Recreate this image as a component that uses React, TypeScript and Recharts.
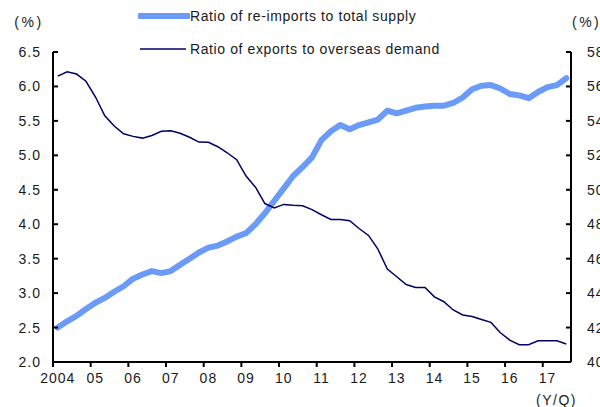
import React from 'react';
import { LineChart, Line, XAxis, YAxis, Legend } from 'recharts';

// quarters 2004Q1 .. 2017Q3
const years = ['2004', '05', '06', '07', '08', '09', '10', '11', '12', '13', '14', '15', '16', '17'];

const reImportRatio = [
  2.50, 2.59, 2.67, 2.77, 2.86, 2.93, 3.02, 3.10, 3.21, 3.27, 3.32, 3.29, 3.32, 3.41,
  3.50, 3.59, 3.66, 3.69, 3.75, 3.82, 3.87, 4.00, 4.16, 4.34, 4.52, 4.70, 4.83, 4.97,
  5.22, 5.35, 5.44, 5.38, 5.44, 5.48, 5.52, 5.65, 5.61, 5.65, 5.69, 5.71, 5.72, 5.72,
  5.76, 5.84, 5.96, 6.01, 6.02, 5.97, 5.89, 5.87, 5.83, 5.92, 5.99, 6.02, 6.12,
];

const exportRatio = [
  56.6, 56.85, 56.72, 56.3, 55.4, 54.3, 53.7, 53.25, 53.1, 53.0, 53.15, 53.4, 53.43, 53.28,
  53.05, 52.77, 52.76, 52.5, 52.15, 51.75, 50.8, 50.15, 49.2, 48.95, 49.15, 49.1, 49.07, 48.85,
  48.55, 48.28, 48.28, 48.2, 47.75, 47.35, 46.55, 45.4, 44.95, 44.5, 44.33, 44.33, 43.78, 43.5,
  43.02, 42.73, 42.64, 42.47, 42.3, 41.7, 41.27, 41.0, 41.0, 41.23, 41.23, 41.23, 41.05,
];

const leftTicks = [2.0, 2.5, 3.0, 3.5, 4.0, 4.5, 5.0, 5.5, 6.0, 6.5];
const rightTicks = [40, 42, 44, 46, 48, 50, 52, 54, 56, 58];
const yearTicks = years.map((_, i) => i * 4);

const data = reImportRatio.map((v, i) => ({
  q: i + 0.5,
  reImport: v,
  exports: exportRatio[i],
}));

const W = 600;
const H = 407;
const LEFT_W = 53;
const RIGHT_W = 29;
const QUARTER_W = (W - LEFT_W - RIGHT_W) / reImportRatio.length;

const FONT = '"Liberation Sans", Arial, sans-serif';
const TEXT = '#1a1a1a';

const LeftTick = (props: any) => {
  const { x, y, payload } = props;
  return (
    <g>
      <line x1={x + 12} x2={x + 17} y1={y} y2={y} stroke="#000" strokeWidth={2} />
      <text x={x} y={y} dy={5} textAnchor="end" fontSize={14} letterSpacing={1} fill={TEXT} fontFamily={FONT}>
        {Number(payload.value).toFixed(1)}
      </text>
    </g>
  );
};

const RightTick = (props: any) => {
  const { x, y, payload } = props;
  return (
    <g>
      <line x1={x - 16} x2={x - 21} y1={y} y2={y} stroke="#000" strokeWidth={2} />
      <text x={x} y={y} dy={5} textAnchor="start" fontSize={14} letterSpacing={1} fill={TEXT} fontFamily={FONT}>
        {payload.value}
      </text>
    </g>
  );
};

const YearTick = (props: any) => {
  const { x, y, payload } = props;
  return (
    <text x={x + QUARTER_W / 2} y={y} dy={14} textAnchor="middle" fontSize={14} letterSpacing={1} fill={TEXT} fontFamily={FONT}>
      {years[payload.value / 4]}
    </text>
  );
};

const LegendBox = () => (
  <div style={{ fontFamily: FONT, fontSize: 14, letterSpacing: 0.6, color: TEXT }}>
    <div style={{ display: 'flex', alignItems: 'center', height: 20 }}>
      <svg width={52} height={10}>
        <line x1={2} x2={50} y1={5} y2={5} stroke="#6B9BF8" strokeWidth={6} strokeLinecap="round" />
      </svg>
      <span>Ratio of re-imports to total supply</span>
    </div>
    <div style={{ display: 'flex', alignItems: 'center', height: 20, marginTop: 13 }}>
      <svg width={52} height={10}>
        <line x1={2} x2={48} y1={5} y2={5} stroke="#000066" strokeWidth={1.5} />
      </svg>
      <span>Ratio of exports to overseas demand</span>
    </div>
  </div>
);

const unitLabel = (text: string, dx: number, anchor: string) => (props: any) => {
  const { viewBox } = props;
  return (
    <text x={viewBox.x + dx} y={viewBox.y - 25} textAnchor={anchor} fontSize={14} letterSpacing={2.5} fill={TEXT} fontFamily={FONT}>
      {text}
    </text>
  );
};

const yqLabel = (props: any) => {
  const { viewBox } = props;
  return (
    <text x={viewBox.x + viewBox.width + 6} y={viewBox.y + 43} textAnchor="end" fontSize={14} letterSpacing={1.5} fill={TEXT} fontFamily={FONT}>
      (Y/Q)
    </text>
  );
};

export default function App() {
  return (
    <div style={{ position: 'absolute', left: 0, top: 0, width: W, height: H, background: '#fff' }}>
      <LineChart width={W} height={H} data={data} margin={{ top: 52, right: 0, bottom: 0, left: 0 }}>
        <XAxis
          dataKey="q"
          type="number"
          domain={[0, reImportRatio.length]}
          ticks={yearTicks}
          interval={0}
          height={45}
          axisLine={{ stroke: '#000', strokeWidth: 2 }}
          tickLine={{ stroke: '#000', strokeWidth: 2 }}
          tickSize={5}
          tickMargin={2}
          tick={<YearTick />}
          label={yqLabel}
        />
        <YAxis
          yAxisId="left"
          orientation="left"
          width={LEFT_W}
          domain={[2, 6.5]}
          ticks={leftTicks}
          interval={0}
          axisLine={{ stroke: '#000', strokeWidth: 2 }}
          tickLine={false}
          tickSize={0}
          tickMargin={12}
          tick={<LeftTick />}
          label={unitLabel('(%)', 29, 'middle')}
        />
        <YAxis
          yAxisId="right"
          orientation="right"
          width={RIGHT_W}
          domain={[40, 58]}
          ticks={rightTicks}
          interval={0}
          axisLine={{ stroke: '#000', strokeWidth: 2 }}
          tickLine={false}
          tickSize={0}
          tickMargin={16}
          tick={<RightTick />}
          label={unitLabel('(%)', 1, 'start')}
        />
        <Legend
          layout="vertical"
          align="center"
          verticalAlign="middle"
          wrapperStyle={{ top: 6, left: 138, width: 'auto' }}
          content={<LegendBox />}
        />
        <Line
          yAxisId="left"
          dataKey="reImport"
          type="linear"
          stroke="#6B9BF8"
          strokeWidth={6}
          strokeLinejoin="round"
          strokeLinecap="round"
          dot={false}
          isAnimationActive={false}
        />
        <Line
          yAxisId="right"
          dataKey="exports"
          type="linear"
          stroke="#000066"
          strokeWidth={1.5}
          dot={false}
          isAnimationActive={false}
        />
      </LineChart>
    </div>
  );
}
